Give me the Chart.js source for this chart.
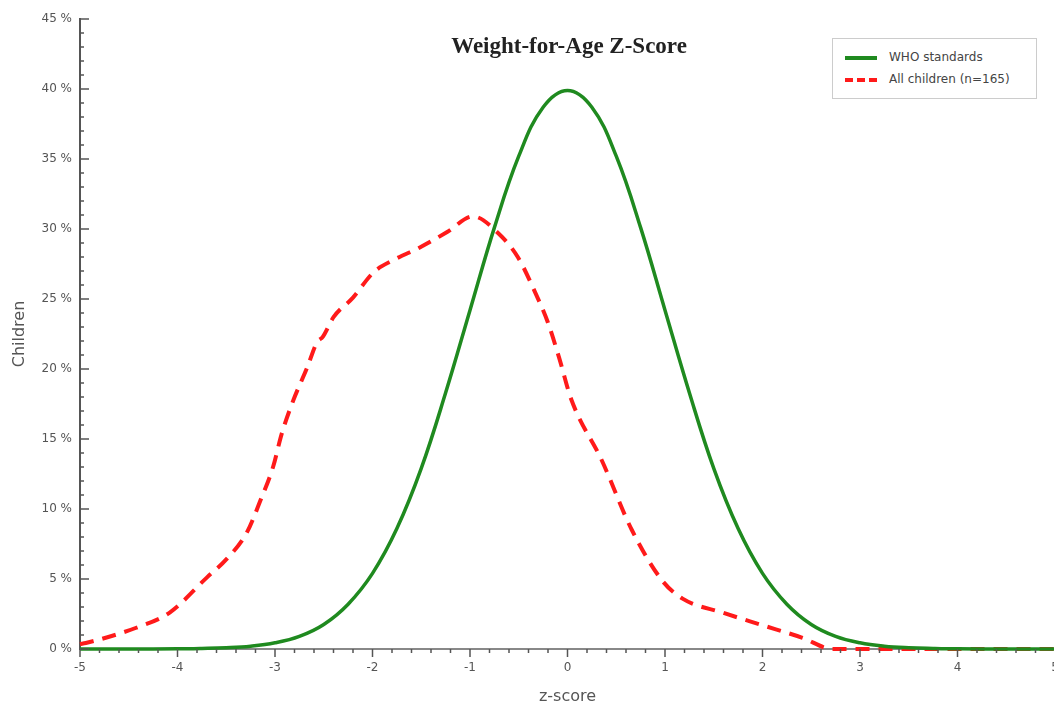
<!DOCTYPE html>
<html lang="en">
<head>
  <meta charset="UTF-8">
  <title>Weight-for-Age Z-Score</title>
  <script src="https://cdn.jsdelivr.net/npm/chart.js"></script>
  <style>
    body { margin: 0; background: #fff; overflow: hidden; font-family: "DejaVu Sans", sans-serif; }
    #wrap { position: relative; width: 1054px; height: 708px; overflow: hidden; }
    #titulo { position: absolute; left: 0; width: 1138px; top: 33px; text-align: center;
      font-family: "Liberation Serif", "Times New Roman", serif; font-weight: bold; font-size: 23px; color: #222; }
    #leyenda { position: absolute; left: 832px; top: 38px; width: 203px; height: 59px;
      border: 1px solid #ccc; background: #fff; font-size: 12px; color: #444; }
    .item { position: absolute; left: 12px; height: 16px; line-height: 16px; white-space: nowrap; }
    .muestra { display: inline-block; width: 32px; vertical-align: middle; margin-right: 12px; }
  </style>
</head>
<body>
<div id="wrap">
  <canvas id="grafico" width="1062" height="708"></canvas>
  <div id="titulo">Weight-for-Age Z-Score</div>
  <div id="leyenda">
    <div class="item" style="top:10px"><span class="muestra" style="border-top:4px solid #1f8a1f"></span>WHO standards</div>
    <div class="item" style="top:32px"><span class="muestra" style="border-top:4px dashed #ff1a1a"></span>All children (n=165)</div>
  </div>
</div>
<script>
  // Curva OMS
  const zWho = [-5, -4.5, -4, -3.75, -3.5, -3.25, -3, -2.75, -2.5, -2.25, -2, -1.75, -1.5, -1.25, -1, -0.75, -0.5, -0.25,
    0, 0.25, 0.5, 0.75, 1, 1.25, 1.5, 1.75, 2, 2.25, 2.5, 2.75, 3, 3.25, 3.5, 3.75, 4, 4.5, 5];
  const whoPct = [0, 0, 0.01, 0.04, 0.09, 0.2, 0.44, 0.9, 1.75, 3.2, 5.4, 8.6, 12.9, 18.3, 24.2, 30.1, 35.2, 38.7,
    39.9, 38.7, 35.2, 30.1, 24.2, 18.3, 12.9, 8.6, 5.4, 3.2, 1.75, 0.9, 0.44, 0.2, 0.09, 0.04, 0.01, 0, 0];

  // Todos los niños (n=165)
  const zAll = [-5, -4.94, -4.43, -4.08, -3.7, -3.5, -3.29, -3.15, -3.02, -2.93, -2.81, -2.67, -2.57, -2.51, -2.4,
    -2.2, -1.99, -1.78, -1.51, -1.23, -0.97, -0.71, -0.51, -0.34, -0.2, -0.09, 0.04, 0.35, 0.66, 0.97, 1.18,
    1.59, 2.0, 2.41, 2.72, 3, 4, 5];
  const allPct = [0.35, 0.43, 1.5, 2.6, 5.1, 6.4, 8.3, 10.6, 13.0, 15.4, 17.8, 20.1, 21.9, 22.3, 23.7,
    25.1, 26.9, 27.8, 28.7, 29.8, 30.9, 29.7, 28.0, 25.6, 23.3, 20.9, 17.8, 13.5, 8.5, 4.9, 3.6,
    2.6, 1.7, 0.8, 0, 0, 0, 0];

  const xTicks = [-5, -4, -3, -2, -1, 0, 1, 2, 3, 4, 5];
  const yTicks = [0, 5, 10, 15, 20, 25, 30, 35, 40, 45];

  // Marcas menores y mayores en los ejes
  const marcas = {
    id: 'marcas',
    afterDatasetsDraw(chart) {
      const { ctx, scales: { x, y } } = chart;
      const x0 = x.getPixelForValue(-5), y0 = y.getPixelForValue(0);
      ctx.save();
      ctx.strokeStyle = '#555';
      ctx.lineWidth = 1.5;
      for (let i = 0; i <= 45; i++) {
        const py = y.getPixelForValue(i);
        const len = i % 5 === 0 ? 9 : 4;
        ctx.beginPath(); ctx.moveTo(x0, py); ctx.lineTo(x0 + len, py); ctx.stroke();
      }
      for (let i = -25; i <= 25; i++) {
        const px = x.getPixelForValue(i / 5);
        const len = i % 5 === 0 ? 8 : 4;
        ctx.beginPath(); ctx.moveTo(px, y0); ctx.lineTo(px, y0 + len); ctx.stroke();
      }
      ctx.restore();
    }
  };

  new Chart(document.getElementById('grafico'), {
    type: 'line',
    data: {
      datasets: [
        {
          label: 'WHO standards',
          data: zWho.map((z, i) => ({ x: z, y: whoPct[i] })),
          borderColor: '#1f8a1f',
          borderWidth: 3.5,
          pointRadius: 0,
          tension: 0.4,
          clip: false
        },
        {
          label: 'All children (n=165)',
          data: zAll.map((z, i) => ({ x: z, y: allPct[i] })),
          borderColor: '#ff1a1a',
          borderWidth: 4,
          borderDash: [14, 9],
          pointRadius: 0,
          cubicInterpolationMode: 'monotone',
          clip: false
        }
      ]
    },
    options: {
      responsive: false,
      animation: false,
      layout: { padding: { top: 19, right: 7, left: 0, bottom: 0 } },
      plugins: { legend: { display: false }, tooltip: { enabled: false } },
      scales: {
        x: {
          type: 'linear', min: -5, max: 5,
          afterBuildTicks: s => { s.ticks = xTicks.map(v => ({ value: v })); },
          afterFit: s => { s.height = 59; s.paddingLeft = 0; s.paddingRight = 0; },
          grid: { display: false, drawTicks: false },
          border: { display: true, color: '#888', width: 2 },
          ticks: { padding: 12, autoSkip: false, color: '#555', font: { family: 'DejaVu Sans', size: 12 }, maxRotation: 0 },
          title: { display: true, text: 'z-score', color: '#555', font: { family: 'DejaVu Sans', size: 16 }, padding: { top: 2, bottom: 2 } }
        },
        y: {
          min: 0, max: 45,
          afterBuildTicks: s => { s.ticks = yTicks.map(v => ({ value: v })); },
          afterFit: s => { s.width = 80; },
          grid: { display: false, drawTicks: false },
          border: { display: true, color: '#555', width: 2 },
          ticks: { padding: 8, color: '#555', font: { family: 'DejaVu Sans', size: 12 }, callback: v => v + ' %' },
          title: { display: true, text: 'Children', color: '#555', font: { family: 'DejaVu Sans', size: 16 }, padding: { top: 10 } }
        }
      }
    },
    plugins: [marcas]
  });
</script>
</body>
</html>
